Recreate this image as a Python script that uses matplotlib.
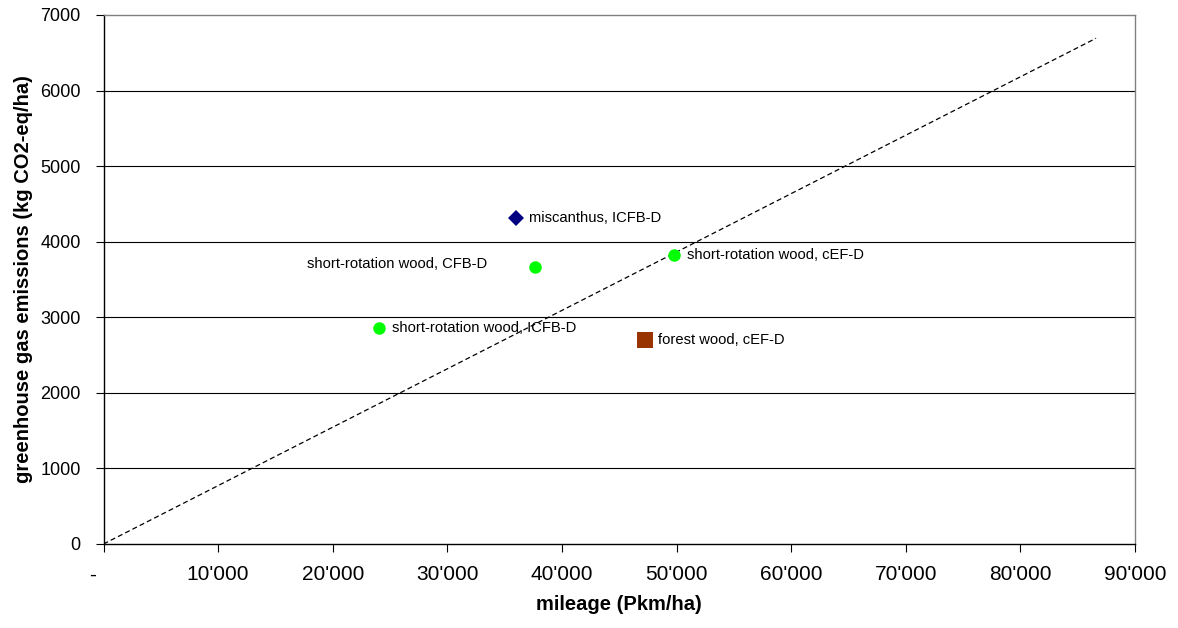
import matplotlib
matplotlib.use("Agg")
import matplotlib.pyplot as plt
from matplotlib.transforms import ScaledTranslation
from matplotlib.ticker import FuncFormatter

plt.rcParams['font.family'] = ['Liberation Sans', 'DejaVu Sans']

# Data
names = ["miscanthus, ICFB-D", "short-rotation wood, CFB-D", "short-rotation wood, ICFB-D",
         "short-rotation wood, cEF-D", "forest wood, cEF-D"]
mileage = [36000, 37620, 24010, 49780, 47250]
emissions = [4310, 3670, 2855, 3825, 2700]
markers = ["D", "o", "o", "o", "s"]
colors = ["#000080", "#00FF00", "#00FF00", "#00FF00", "#993300"]
msizes = [8, 9, 9, 9, 11]
label_offsets = [(13, 0), (-47, 3), (13, 0), (13, 0), (13, 0)]
label_ha = ["left", "right", "left", "left", "left"]

line_x = [0, 86600]
line_y = [0, 6692]

xticks = list(range(0, 90001, 10000))
yticks = list(range(0, 7001, 1000))

fig = plt.figure(figsize=(11.78, 6.28), dpi=100)
ax = fig.add_axes([103.5/1178, 1 - 544/628, (1135-103.5)/1178, (544-15)/628])

ax.set_xlim(0, 90000)
ax.set_ylim(0, 7000)
ax.set_yticks(yticks)
ax.set_xticks(xticks)

for y in yticks[1:-1]:
    ax.axhline(y, color='black', lw=0.8, zorder=1)

ax.plot(line_x, line_y, color='black', lw=0.9, ls=(0, (4, 2.5)), zorder=2)

for n, x, y, m, c, s, off, ha in zip(names, mileage, emissions, markers, colors, msizes,
                                     label_offsets, label_ha):
    ax.plot([x], [y], marker=m, color=c, markersize=s, ls='none', zorder=3,
            markeredgewidth=0)
    ax.annotate(n, (x, y), xytext=off, textcoords='offset pixels', ha=ha, va='center',
                fontsize=10.6, zorder=4)

def xfmt(v, pos):
    if v == 0:
        return "-"
    return f"{int(v):,}".replace(",", "'")

ax.xaxis.set_major_formatter(FuncFormatter(xfmt))
ax.tick_params(axis='both', direction='out', length=6, width=0.8)
ax.tick_params(axis='x', pad=9.3, labelsize=15)
ax.tick_params(axis='y', pad=10.5, labelsize=13)

for sp in ['top', 'right']:
    ax.spines[sp].set_color('#808080')
    ax.spines[sp].set_linewidth(1.0)
for sp in ['left', 'bottom']:
    ax.spines[sp].set_color('black')
    ax.spines[sp].set_linewidth(1.0)

ax.set_xlabel("mileage (Pkm/ha)", fontsize=14.5, fontweight='bold', labelpad=8)
ax.set_ylabel("greenhouse gas emissions (kg CO2-eq/ha)", fontsize=14.5, fontweight='bold', labelpad=5)

fig.canvas.draw()
lbl0 = ax.get_xticklabels()[0]
lbl0.set_transform(lbl0.get_transform() + ScaledTranslation(-11/100, 0, fig.dpi_scale_trans))

fig.savefig("out.png", dpi=100)
